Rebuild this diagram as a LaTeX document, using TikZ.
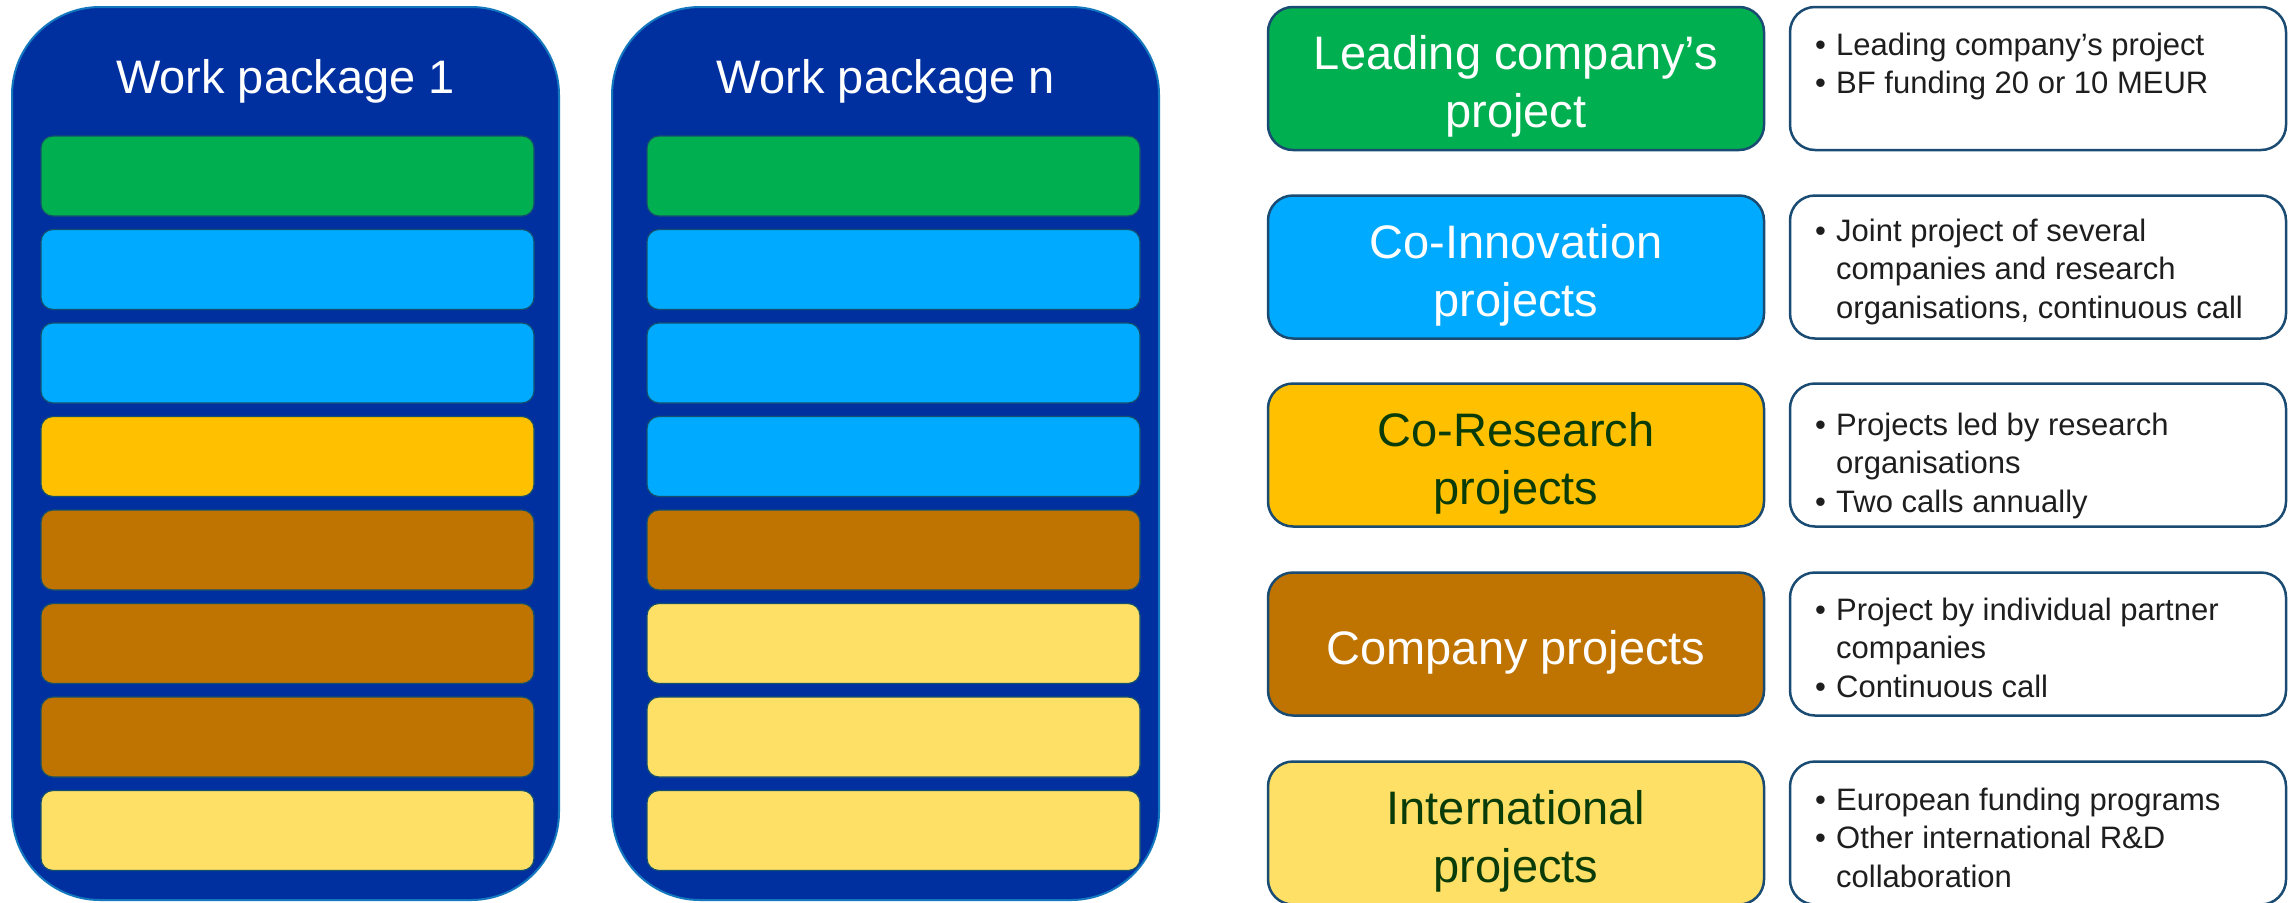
\documentclass[tikz,border=0pt]{standalone}
\usepackage{fontspec}
\setmainfont{Liberation Sans}
\definecolor{wpblue}{RGB}{0,48,160}
\definecolor{wpedge}{RGB}{20,120,190}
\definecolor{baredge}{RGB}{20,80,110}
\definecolor{catgreen}{RGB}{0,176,80}
\definecolor{catsky}{RGB}{0,170,255}
\definecolor{catgold}{RGB}{255,192,0}
\definecolor{catbrown}{RGB}{191,115,0}
\definecolor{catpale}{RGB}{255,224,102}
\definecolor{boxedge}{RGB}{25,75,115}
\definecolor{darkgreentext}{RGB}{10,60,10}
\definecolor{bodytext}{RGB}{30,30,30}
\newcommand\bul{\makebox[21pt][l]{\textbullet}}
\newcommand\ind{\hspace*{21pt}}
\begin{document}
\begin{tikzpicture}[x=1pt,y=-1pt,
  wp/.style={draw=wpedge, line width=2pt, fill=wpblue, rounded corners=88pt, minimum width=547pt, minimum height=893pt, inner sep=0pt},
  bar/.style={draw=baredge, line width=1.2pt, rounded corners=12pt, minimum width=493pt, minimum height=80pt, inner sep=0pt},
  wptitle/.style={anchor=base, text=white, inner sep=0pt, font=\fontsize{47}{57}\selectfont},
  cat/.style={draw=boxedge, line width=2.5pt, rounded corners=25pt, minimum width=496pt, minimum height=143pt, inner sep=0pt},
  cattext/.style={align=center, inner sep=0pt, yshift=-8pt, font=\fontsize{47}{58}\selectfont},
  desc/.style={draw=boxedge, line width=2.5pt, rounded corners=25pt, minimum width=496pt, minimum height=143pt, fill=white, inner sep=0pt},
  bultext/.style={anchor=base west, inner sep=0pt, text=bodytext, font=\fontsize{31}{38.5}\selectfont}
]
\useasboundingbox (0,0) rectangle (2290,902);
% work packages
\node[wp] (wp1) at (285.5,453.5) {};
\node[wp] (wpn) at (885.5,453.5) {};
\node[wptitle] (t1) at (285.5,93) {Work package 1};
\node[wptitle] (tn) at (885.5,93) {Work package n};
\foreach \c [count=\i from 0] in {catgreen,catsky,catsky,catgold,catbrown,catbrown,catbrown,catpale}
  \node[bar, fill=\c] (a\i) at (287.5,{176+\i*93.5}) {};
\foreach \c [count=\i from 0] in {catgreen,catsky,catsky,catsky,catbrown,catpale,catpale,catpale}
  \node[bar, fill=\c] (b\i) at (893.5,{176+\i*93.5}) {};
% categories
\node[cat, fill=catgreen] (c1) at (1516,78.5) {};
\node[cat, fill=catsky] (c2) at (1516,267) {};
\node[cat, fill=catgold] (c3) at (1516,455) {};
\node[cat, fill=catbrown] (c4) at (1516,644) {};
\node[cat, fill=catpale] (c5) at (1516,833) {};
\node[cattext, text=white] (l1) at (c1.center) {Leading company’s\\project};
\node[cattext, text=white] (l2) at (c2.center) {Co-Innovation\\projects};
\node[cattext, text=darkgreentext] (l3) at (c3.center) {Co-Research\\projects};
\node[cattext, text=white] (l4) at (c4.center) {Company projects};
\node[cattext, text=darkgreentext] (l5) at (c5.center) {International\\projects};
% descriptions
\node[desc] (d1) at (2038,78.5) {};
\node[desc] (d2) at (2038,267) {};
\node[desc] (d3) at (2038,455) {};
\node[desc] (d4) at (2038,644) {};
\node[desc] (d5) at (2038,833) {};
\node[bultext] (e1) at (1815,55) {\parbox[t]{460pt}{\bul Leading company’s project\\\bul BF funding 20 or 10 MEUR}};
\node[bultext] (e2) at (1815,241) {\parbox[t]{460pt}{\bul Joint project of several\\\ind companies and research\\\ind organisations, continuous call}};
\node[bultext] (e3) at (1815,435) {\parbox[t]{460pt}{\bul Projects led by research\\\ind organisations\\\bul Two calls annually}};
\node[bultext] (e4) at (1815,620) {\parbox[t]{460pt}{\bul Project by individual partner\\\ind companies\\\bul Continuous call}};
\node[bultext] (e5) at (1815,810) {\parbox[t]{460pt}{\bul European funding programs\\\bul Other international R\&D\\\ind collaboration}};
\end{tikzpicture}
\end{document}
